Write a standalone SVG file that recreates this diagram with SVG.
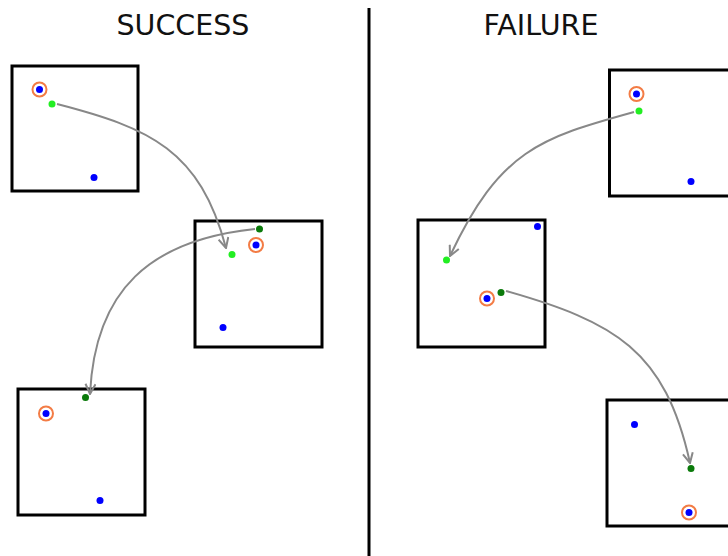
<svg xmlns="http://www.w3.org/2000/svg" width="728" height="556" viewBox="0 0 728 556">
<defs>
<style>
.box{fill:#fff;stroke:#000;stroke-width:3}
.blue{fill:#0000ff}
.lg{fill:#22ee22}
.dg{fill:#0a7a0a}
.ring{fill:none;stroke:#f37c45;stroke-width:2}
.conn{fill:none;stroke:#888;stroke-width:2;marker-end:url(#ah)}
.title{font-family:"DejaVu Sans",sans-serif;font-size:28.5px;fill:#111;text-anchor:middle}
</style>
<marker id="ah" viewBox="0 0 12 12" refX="11" refY="6" markerWidth="12" markerHeight="12" markerUnits="userSpaceOnUse" orient="auto">
<path d="M1,1 L11,6 L1,11" fill="none" stroke="#888" stroke-width="2"/>
</marker>
</defs>
<rect width="728" height="556" fill="#fff"/>
<text class="title" x="183" y="35">SUCCESS</text>
<text class="title" x="541" y="35">FAILURE</text>
<line x1="369" y1="8" x2="369" y2="556" stroke="#000" stroke-width="3"/>
<g id="s1">
<rect class="box" x="12" y="66" width="126" height="125"/>
<circle class="ring" cx="39.5" cy="89.5" r="7"/>
<circle class="blue" cx="39.5" cy="89.5" r="3.5"/>
<circle class="lg" cx="52" cy="104" r="3.5"/>
<circle class="blue" cx="94" cy="177.5" r="3.5"/>
</g>
<g id="s2">
<rect class="box" x="195" y="221" width="127" height="126"/>
<circle class="dg" cx="259.5" cy="229" r="3.5"/>
<circle class="ring" cx="256" cy="245" r="7"/>
<circle class="blue" cx="256" cy="245" r="3.5"/>
<circle class="lg" cx="232" cy="254.5" r="3.5"/>
<circle class="blue" cx="223" cy="327.5" r="3.5"/>
</g>
<g id="s3">
<rect class="box" x="18" y="389" width="127" height="126"/>
<circle class="dg" cx="85.5" cy="397.5" r="3.5"/>
<circle class="ring" cx="46" cy="413.5" r="7"/>
<circle class="blue" cx="46" cy="413.5" r="3.5"/>
<circle class="blue" cx="100" cy="500.5" r="3.5"/>
</g>
<g id="f1">
<rect class="box" x="609.5" y="70" width="130" height="126"/>
<circle class="ring" cx="636.5" cy="94" r="7"/>
<circle class="blue" cx="636.5" cy="94" r="3.5"/>
<circle class="lg" cx="639" cy="111" r="3.5"/>
<circle class="blue" cx="691" cy="181.5" r="3.5"/>
</g>
<g id="f2">
<rect class="box" x="418" y="220" width="127" height="127"/>
<circle class="blue" cx="537.5" cy="226.5" r="3.5"/>
<circle class="lg" cx="446.5" cy="260" r="3.5"/>
<circle class="dg" cx="501" cy="292.5" r="3.5"/>
<circle class="ring" cx="487" cy="298.5" r="7"/>
<circle class="blue" cx="487" cy="298.5" r="3.5"/>
</g>
<g id="f3">
<rect class="box" x="607" y="400" width="130" height="126"/>
<circle class="blue" cx="634.5" cy="424.5" r="3.5"/>
<circle class="dg" cx="691" cy="468.5" r="3.5"/>
<circle class="ring" cx="689" cy="512.5" r="7"/>
<circle class="blue" cx="689" cy="512.5" r="3.5"/>
</g>
<g id="connectors">
<path class="conn" d="M57,104 C150,128 200,150 226,248"/>
<path class="conn" d="M255,229 C150,240 95,290 90,394"/>
<path class="conn" d="M634,112 C540,138 500,150 450,256"/>
<path class="conn" d="M506,291 C615,322 665,350 690,463"/>
</g>
</svg>
